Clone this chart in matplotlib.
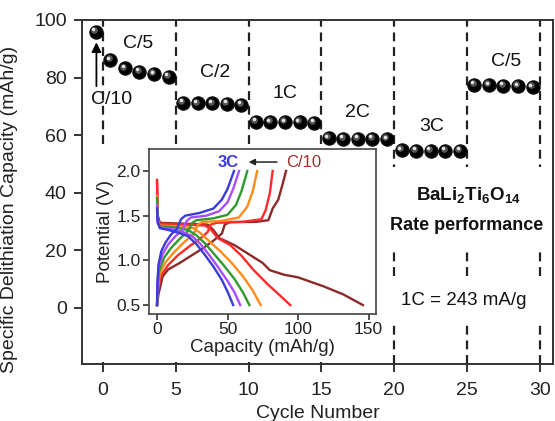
import numpy as np
import matplotlib
matplotlib.use('Agg')
import matplotlib.pyplot as plt
from matplotlib import transforms
from matplotlib.patches import Rectangle

plt.rcParams['font.family'] = ['Liberation Sans', 'DejaVu Sans']
plt.rcParams['mathtext.fontset'] = 'custom'
plt.rcParams['mathtext.rm'] = 'Liberation Sans'
plt.rcParams['mathtext.bf'] = 'Liberation Sans:bold'

# ---------------- main data ----------------
cycle_number = np.arange(31) - 0.5
capacity = [96.0,
            86.0, 83.2, 82.0, 81.2, 80.3,
            71.2, 71.0, 71.0, 70.8, 70.5,
            64.6, 64.5, 64.5, 64.5, 64.3,
            58.9, 58.8, 58.8, 58.8, 58.6,
            54.8, 54.6, 54.6, 54.6, 54.5,
            77.5, 77.3, 77.2, 77.0, 76.6]
rate_boundaries = [0, 5, 10, 15, 20, 25, 30]
rate_labels = ['C/5', 'C/2', '1C', '2C', '3C', 'C/5']

# ---------------- inset data (capacity mAh/g, potential V) ----------------
discharge_C10 = [(0, 1.88), (0.5, 1.50), (2, 1.42), (20, 1.41), (36, 1.40), (40, 1.34), (44, 1.25),
                 (55, 1.17), (66, 1.06), (75, 0.97), (80, 0.89), (90, 0.84), (100, 0.81),
                 (118, 0.71), (132, 0.62), (146, 0.50)]
discharge_C5 = [(0, 1.90), (0.5, 1.47), (2, 1.41), (20, 1.40), (34, 1.39), (38, 1.35), (43, 1.25),
                (52, 1.17), (60, 1.05), (68, 0.90), (78, 0.74), (87, 0.61), (94.5, 0.50)]
discharge_C2 = [(0, 1.72), (0.5, 1.45), (2, 1.39), (15, 1.38), (26, 1.36), (32, 1.29), (38, 1.20),
                (45, 1.10), (53, 0.97), (61, 0.82), (68, 0.66), (73.5, 0.50)]
discharge_1C = [(0, 1.70), (0.5, 1.44), (2, 1.38), (12, 1.37), (22, 1.34), (28, 1.28), (34, 1.19),
                (40, 1.08), (47, 0.95), (55, 0.79), (61, 0.64), (65.5, 0.50)]
discharge_2C = [(0, 1.62), (0.5, 1.43), (2, 1.37), (10, 1.35), (18, 1.32), (25, 1.27), (31, 1.18),
                (37, 1.06), (43, 0.93), (50, 0.77), (55, 0.64), (59, 0.50)]
discharge_3C = [(0, 1.58), (0.5, 1.42), (2, 1.36), (8, 1.34), (15, 1.31), (22, 1.27), (28, 1.18),
                (34, 1.06), (40, 0.93), (46, 0.78), (50, 0.65), (54, 0.50)]

charge_C10 = [(0, 0.50), (1, 0.62), (4, 0.82), (8, 0.90), (16, 0.97), (24, 1.05), (32, 1.13),
              (40, 1.22), (46, 1.30), (48, 1.40), (52, 1.43), (70, 1.43), (79, 1.45), (82, 1.58),
              (86, 1.68), (89, 1.85), (91.5, 2.00)]
charge_C5 = [(0, 0.50), (0.5, 0.65), (2.5, 0.82), (8, 0.95), (15, 1.06), (24, 1.17), (32, 1.26),
             (36, 1.32), (38, 1.40), (42, 1.42), (60, 1.43), (74, 1.46), (77, 1.56), (80, 1.75),
             (82, 2.00)]
charge_C2 = [(0, 0.50), (0.5, 0.68), (2, 0.85), (6, 0.98), (12, 1.09), (19, 1.20), (26, 1.30),
             (29, 1.40), (32, 1.43), (45, 1.44), (58, 1.48), (64, 1.60), (68, 1.78), (71, 2.00)]
charge_1C = [(0, 0.50), (0.4, 0.70), (1.5, 0.88), (5, 1.03), (10, 1.14), (16, 1.24), (22, 1.33),
             (25, 1.42), (28, 1.45), (40, 1.47), (50, 1.51), (56, 1.62), (60, 1.78), (64, 2.00)]
charge_2C = [(0, 0.50), (0.3, 0.72), (1, 0.92), (4, 1.07), (8, 1.18), (13, 1.27), (18, 1.34),
             (21, 1.44), (24, 1.48), (35, 1.50), (44, 1.55), (50, 1.65), (54, 1.80), (58.2, 2.00)]
charge_3C = [(0, 0.50), (0.3, 0.75), (1, 0.95), (3, 1.10), (6, 1.20), (10, 1.29), (14, 1.35),
             (17, 1.46), (20, 1.50), (30, 1.53), (40, 1.58), (46, 1.68), (50, 1.80), (54.6, 2.00)]

curve_colors = {'C/10': '#8c2a2a', 'C/5': '#ff2a2a', 'C/2': '#ff8c1a',
                '1C': '#2e9a2e', '2C': '#a64dff', '3C': '#3b3bd6'}

W, H = 555, 421
fig = plt.figure(figsize=(W / 100, H / 100), dpi=100)

def fx(px):
    return px / W

def fy(py):
    return 1 - py / H

spine_c = '#333333'
ax = fig.add_axes([fx(82), fy(364), fx(553) - fx(82), fy(20) - fy(364)])
ax.set_xlim(-1.44, 30.9)
ax.set_ylim(-19.6, 100)

for b in rate_boundaries:
    ax.axvline(b, color='#222222', lw=1.6, ls=(0, (4, 2.6)), zorder=1)

# white regions behind labels (cover the dashed lines)
for (x0, y0, x1, y1) in [(95, 146, 380, 362), (382, 167, 550, 250), (382, 279, 550, 320)]:
    ax.add_patch(Rectangle((fx(x0), fy(y1)), fx(x1) - fx(x0), fy(y0) - fy(y1),
                           transform=fig.transFigure, facecolor='white', edgecolor='none',
                           zorder=2, clip_on=False))

# sphere-like markers
ax.plot(cycle_number, capacity, 'o', ms=9.6, mfc='black', mec='#111111', mew=0.8, ls='none', zorder=4)
hl = transforms.offset_copy(ax.transData, fig=fig, x=-1.2, y=1.3, units='points')
ax.plot(cycle_number, capacity, 'o', ms=4.8, mfc='#555555', mec='none', ls='none', zorder=5, transform=hl)
hl2 = transforms.offset_copy(ax.transData, fig=fig, x=-1.6, y=1.8, units='points')
ax.plot(cycle_number, capacity, 'o', ms=2.5, mfc='#e6e6e6', mec='none', ls='none', zorder=6, transform=hl2)

lab_x = [2.4, 7.7, 12.5, 17.5, 22.6, 27.7]
lab_y = [92, 81.9, 74.6, 67.7, 62.8, 85.4]
for t, x, y in zip(rate_labels, lab_x, lab_y):
    ax.text(x, y, t, fontsize=14, ha='center', va='center', color='#111111', zorder=7)
ax.text(0.6, 72.5, 'C/10', fontsize=14, ha='center', va='center', color='#111111', zorder=0.5)
ax.annotate('', xy=(-0.45, 93.2), xytext=(-0.45, 76),
            arrowprops=dict(arrowstyle='-|>', color='black', lw=1.3, mutation_scale=14), zorder=7)

ax.text(25.05, 39.1, r'$\mathbf{BaLi_2Ti_6O_{14}}$', fontsize=13.5, ha='center', va='center',
        color='#111111', zorder=7)
ax.text(25.0, 28.7, 'Rate performance', fontsize=13, fontweight='bold', ha='center', va='center',
        color='#111111', zorder=7)
ax.text(24.8, 2.6, '1C = 243 mA/g', fontsize=13.5, ha='center', va='center', color='#111111', zorder=7)

ax.set_xticks([0, 5, 10, 15, 20, 25, 30])
ax.set_yticks([0, 20, 40, 60, 80, 100])
ax.tick_params(direction='out', length=6, width=1.4, labelsize=14, colors=spine_c,
               labelcolor='#222222', pad=5)
ax.tick_params(axis='x', pad=7)
for s in ax.spines.values():
    s.set_color(spine_c)
    s.set_linewidth(1.4)
ax.set_xlabel('Cycle Number', fontsize=14, color='#222222', labelpad=4)
ax.set_ylabel('Specific Delithiation Capacity (mAh/g)', fontsize=14, color='#222222')
ax.yaxis.set_label_coords(-0.135, 0.45)

# ---------------- inset ----------------
ins = fig.add_axes([fx(149), fy(314), fx(376) - fx(149), fy(149) - fy(314)])
ins.set_facecolor('white')
curves = [('C/10', discharge_C10, charge_C10), ('C/5', discharge_C5, charge_C5),
          ('C/2', discharge_C2, charge_C2), ('1C', discharge_1C, charge_1C),
          ('2C', discharge_2C, charge_2C), ('3C', discharge_3C, charge_3C)]
for name, dis, chg in curves:
    c = curve_colors[name]
    d = np.array(dis)
    g = np.array(chg)
    ins.plot(d[:, 0], d[:, 1], color=c, lw=1.7, solid_joinstyle='round')
    ins.plot(g[:, 0], g[:, 1], color=c, lw=1.7, solid_joinstyle='round')

ins.set_xlim(-5.7, 155.3)
ins.set_ylim(0.40, 2.246)
ins.set_xticks([0, 50, 100, 150])
ins.set_yticks([0.5, 1.0, 1.5, 2.0])
ins.set_yticklabels(['0.5', '1.0', '1.5', '2.0'])
ins.tick_params(direction='out', length=4, width=1.2, labelsize=12.5, colors=spine_c,
                labelcolor='#222222', pad=2)
for s in ins.spines.values():
    s.set_color('#444444')
    s.set_linewidth(1.2)
ins.set_xlabel('Capacity (mAh/g)', fontsize=13.5, color='#222222', labelpad=1)
ins.set_ylabel('Potential (V)', fontsize=13.5, color='#222222', labelpad=2)

ins.text(50.5, 2.10, '3C', fontsize=12, fontweight='bold', color=curve_colors['3C'],
         ha='center', va='center')
ins.text(104, 2.10, 'C/10', fontsize=12, color='#a03030', ha='center', va='center')
ins.annotate('', xy=(63, 2.10), xytext=(87, 2.10),
             arrowprops=dict(arrowstyle='-|>', color='#222222', lw=1.1, mutation_scale=9))

fig.savefig('out.png', dpi=100)
